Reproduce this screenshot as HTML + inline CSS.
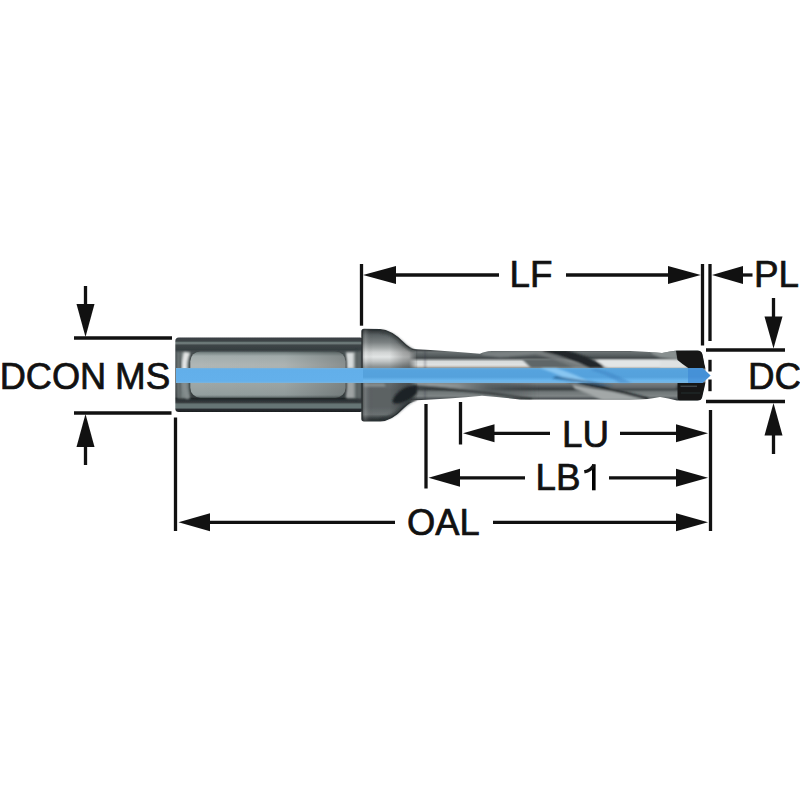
<!DOCTYPE html>
<html><head><meta charset="utf-8">
<style>
html,body{margin:0;padding:0;background:#fff;width:800px;height:800px;overflow:hidden}
svg{display:block}
text{font-family:"Liberation Sans",sans-serif;font-size:36.8px;fill:#111;stroke:#111;stroke-width:0.7px}
</style></head><body>
<svg width="800" height="800" viewBox="0 0 800 800">
<defs>
<filter id="soft" x="-5%" y="-20%" width="110%" height="140%"><feGaussianBlur stdDeviation="0.65"/></filter>
<filter id="blur1" x="-10%" y="-30%" width="120%" height="160%"><feGaussianBlur stdDeviation="0.9"/></filter>
<filter id="blur2" x="-20%" y="-50%" width="140%" height="200%"><feGaussianBlur stdDeviation="1.6"/></filter>
<linearGradient id="shank" x1="0" y1="337.5" x2="0" y2="412" gradientUnits="userSpaceOnUse">
<stop offset="0" stop-color="#353b3e"/>
<stop offset="0.01" stop-color="#3a4144"/>
<stop offset="0.05" stop-color="#3d4446"/>
<stop offset="0.063" stop-color="#6a7676"/>
<stop offset="0.085" stop-color="#6d7878"/>
<stop offset="0.1" stop-color="#3f4648"/>
<stop offset="0.16" stop-color="#353d40"/>
<stop offset="0.2" stop-color="#4a5254"/>
<stop offset="0.8" stop-color="#3a4042"/>
<stop offset="0.815" stop-color="#1f2527"/>
<stop offset="0.87" stop-color="#353b3e"/>
<stop offset="0.89" stop-color="#5a6767"/>
<stop offset="0.9" stop-color="#667474"/>
<stop offset="0.945" stop-color="#667474"/>
<stop offset="0.965" stop-color="#262c2f"/>
<stop offset="1" stop-color="#181d20"/>
</linearGradient>
<linearGradient id="panel" x1="0" y1="351.4" x2="0" y2="397.8" gradientUnits="userSpaceOnUse">
<stop offset="0" stop-color="#5f6a6b"/>
<stop offset="0.04" stop-color="#7f8b8b"/>
<stop offset="0.1" stop-color="#a3adad"/>
<stop offset="0.3" stop-color="#b0b7b6"/>
<stop offset="0.7" stop-color="#9ea7a6"/>
<stop offset="0.94" stop-color="#939e9e"/>
<stop offset="1" stop-color="#5f6a6a"/>
</linearGradient>
<linearGradient id="panelH" x1="190" y1="0" x2="347" y2="0" gradientUnits="userSpaceOnUse">
<stop offset="0" stop-color="#000" stop-opacity="0"/>
<stop offset="0.6" stop-color="#000" stop-opacity="0.02"/>
<stop offset="1" stop-color="#000" stop-opacity="0.22"/>
</linearGradient>
<linearGradient id="ringL" x1="175" y1="0" x2="191" y2="0" gradientUnits="userSpaceOnUse">
<stop offset="0" stop-color="#202628"/>
<stop offset="0.15" stop-color="#3a4042"/>
<stop offset="0.3" stop-color="#8a9091"/>
<stop offset="0.5" stop-color="#b9bdbd"/>
<stop offset="0.62" stop-color="#e8eaea"/>
<stop offset="0.72" stop-color="#9aa0a0"/>
<stop offset="0.85" stop-color="#2a3032"/>
<stop offset="1" stop-color="#3a4042"/>
</linearGradient>
<linearGradient id="ringR" x1="346" y1="0" x2="362" y2="0" gradientUnits="userSpaceOnUse">
<stop offset="0" stop-color="#6a7071"/>
<stop offset="0.2" stop-color="#b5b9b9"/>
<stop offset="0.4" stop-color="#7d8384"/>
<stop offset="0.55" stop-color="#3a4042"/>
<stop offset="0.7" stop-color="#8a9091"/>
<stop offset="0.85" stop-color="#4a5052"/>
<stop offset="1" stop-color="#252b2d"/>
</linearGradient>
<linearGradient id="collar" x1="0" y1="329.5" x2="0" y2="420.8" gradientUnits="userSpaceOnUse">
<stop offset="0" stop-color="#2a3032"/>
<stop offset="0.025" stop-color="#3d4345"/>
<stop offset="0.06" stop-color="#5a6163"/>
<stop offset="0.14" stop-color="#7a8081"/>
<stop offset="0.2" stop-color="#a5aaaa"/>
<stop offset="0.25" stop-color="#d0d3d3"/>
<stop offset="0.3" stop-color="#e2e5e5"/>
<stop offset="0.35" stop-color="#c0c4c4"/>
<stop offset="0.41" stop-color="#8a9091"/>
<stop offset="0.55" stop-color="#6a7071"/>
<stop offset="0.66" stop-color="#5c6264"/>
<stop offset="0.85" stop-color="#5c6264"/>
<stop offset="0.93" stop-color="#6a7071"/>
<stop offset="0.97" stop-color="#3a4042"/>
<stop offset="1" stop-color="#23292b"/>
</linearGradient>
<linearGradient id="collarH" x1="362" y1="0" x2="417" y2="0" gradientUnits="userSpaceOnUse">
<stop offset="0" stop-color="#000" stop-opacity="0.3"/>
<stop offset="0.07" stop-color="#fff" stop-opacity="0.12"/>
<stop offset="0.2" stop-color="#000" stop-opacity="0"/>
<stop offset="0.5" stop-color="#000" stop-opacity="0.0"/>
<stop offset="0.75" stop-color="#000" stop-opacity="0.22"/>
<stop offset="1" stop-color="#000" stop-opacity="0.35"/>
</linearGradient>
<linearGradient id="body" x1="0" y1="350" x2="0" y2="400" gradientUnits="userSpaceOnUse">
<stop offset="0" stop-color="#3a4042"/>
<stop offset="0.04" stop-color="#6a7172"/>
<stop offset="0.1" stop-color="#5a6163"/>
<stop offset="0.16" stop-color="#444a4c"/>
<stop offset="0.2" stop-color="#9ea3a3"/>
<stop offset="0.23" stop-color="#d8dbdb"/>
<stop offset="0.3" stop-color="#e0e3e3"/>
<stop offset="0.33" stop-color="#c8c4be"/>
<stop offset="0.36" stop-color="#8a9091"/>
<stop offset="0.66" stop-color="#7d8384"/>
<stop offset="0.72" stop-color="#5a6062"/>
<stop offset="0.78" stop-color="#3a4042"/>
<stop offset="0.84" stop-color="#6f7677"/>
<stop offset="0.92" stop-color="#7f8586"/>
<stop offset="0.98" stop-color="#4a5052"/>
<stop offset="1" stop-color="#2b3133"/>
</linearGradient>
<linearGradient id="blue" x1="0" y1="368" x2="0" y2="383" gradientUnits="userSpaceOnUse">
<stop offset="0" stop-color="#6aa9d6"/>
<stop offset="0.15" stop-color="#56a3de"/>
<stop offset="0.6" stop-color="#54a1dc"/>
<stop offset="0.82" stop-color="#6ab6ee"/>
<stop offset="1" stop-color="#78b3de"/>
</linearGradient>
<linearGradient id="blueS" x1="0" y1="368" x2="0" y2="383" gradientUnits="userSpaceOnUse">
<stop offset="0" stop-color="#78b2dc"/>
<stop offset="0.12" stop-color="#62afea"/>
<stop offset="0.88" stop-color="#63b0eb"/>
<stop offset="1" stop-color="#7cb4dc"/>
</linearGradient>
<linearGradient id="fadeR" x1="362" y1="0" x2="418" y2="0" gradientUnits="userSpaceOnUse">
<stop offset="0" stop-color="#fff"/>
<stop offset="0.84" stop-color="#fff"/>
<stop offset="1" stop-color="#fff" stop-opacity="0"/>
</linearGradient>
<mask id="collarMask" maskUnits="userSpaceOnUse" x="350" y="320" width="80" height="110"><rect x="350" y="320" width="80" height="110" fill="url(#fadeR)"/></mask>
<linearGradient id="neckLow" x1="412" y1="0" x2="540" y2="0" gradientUnits="userSpaceOnUse">
<stop offset="0" stop-color="#a0a5a5"/>
<stop offset="0.35" stop-color="#8a9091"/>
<stop offset="0.6" stop-color="#5a6163" stop-opacity="0.8"/>
<stop offset="1" stop-color="#3a4042" stop-opacity="0"/>
</linearGradient>
<clipPath id="bodyclip">
<path d="M405 348.5 L412 349 Q450 351 480 353.8 Q484 351.5 492 351 L560 351 L630 351 Q652 352 662 353 Q670 351 677 350.5 L697.5 350.5 Q701.5 350.5 702.3 354 L705.5 368.5 L705.5 382.5 L702.3 397 Q701.5 400.5 697.5 400.5 L677 400.5 Q668 398 660 397 Q650 399.5 630 399.5 L560 399.5 L520 399.5 Q500 397 482 395.8 Q450 399 412 400.5 L405 401 Z"/>
</clipPath>
</defs>

<g id="drill" filter="url(#soft)">
  <!-- shank -->
  <rect x="175.3" y="337.5" width="188" height="74.5" rx="3.5" fill="url(#shank)"/>
  <g filter="url(#blur1)">
    <path d="M177.5 352 L190 352 L190 398.5 L177.5 398.5 Q176.5 375 177.5 352 Z" fill="#7a8484"/>
    <path d="M179.5 351 L181 351 Q180 375 181 399 L179.5 399 Q178.5 375 179.5 351 Z" fill="#454b4d"/>
    <path d="M347 352 L362 352 L362 398.5 L347 398.5 Z" fill="#727c7c"/>
    <path d="M346 352 L354 352 L354 398 L346 398 Z" fill="#9ea3a3"/>
    <path d="M346.5 353 L353.5 353 L353.5 368 L346.5 368 Z" fill="#d8dcdc"/>
    <path d="M356.5 350 L358 350 L358 400 L356.5 400 Z" fill="#3a4042"/>
    <path d="M359.5 350 L361.5 350 L361.5 400 L359.5 400 Z" fill="#4a5052"/>
  </g>
  <rect x="188.6" y="352" width="158.4" height="46" rx="10" fill="#2e3436" filter="url(#blur1)" opacity="0.6"/>
  <rect x="190.3" y="351.4" width="155.2" height="46.4" rx="10" fill="url(#panel)"/>
  <rect x="190.3" y="351.4" width="155.2" height="46.4" rx="10" fill="url(#panelH)"/>
  <g filter="url(#blur1)">
    <path d="M184 352 Q181.5 360 182 370 L187 370 Q186.5 360 190 353 Z" fill="#eef0f0" opacity="0.9"/>
    <path d="M182.5 382 Q183 392 186 399 L189 399 Q186.5 392 186.5 382 Z" fill="#8a9091" opacity="0.8"/>
  </g>

  <!-- body -->
  <g clip-path="url(#bodyclip)">
    <rect x="400" y="345" width="310" height="60" fill="url(#body)"/>
    <g filter="url(#blur1)">
      <!-- neck ring line -->
      <rect x="424.5" y="350" width="1.2" height="50" fill="#30363a" opacity="0.5"/>
      <!-- top: flute land 1 -->
      <path d="M482 352.5 Q510 351.5 541 351 L548 352 Q525 356 500 357.5 Q490 356 482 355 Z" fill="#868c8d" opacity="0.7"/>
      <!-- highlight end (covers highlight left of wedge) -->
      <path d="M522 359 L562 359 L592 368 L531 368 Z" fill="#5f6668"/>
      <path d="M541 351.5 Q566 357 590 368 L575 368 Q555 359 535 354 Z" fill="#7a8081" opacity="0.8"/>
      <!-- dark wedge -->
      <path d="M543 350 L565 350 Q590 356 608 368 L590 368 Q567 357 543 351.5 Z" fill="#23282a"/>
      <!-- highlight after wedge -->
      <path d="M597 360 L680 360 L685 367.5 L605 367.5 Z" fill="#e3e6e6"/>
      <!-- bottom left light region -->
      <path d="M412 383 L540 383 L540 400 Q480 391 412 385.5 Z" fill="url(#neckLow)"/>
      <path d="M412 385.5 Q480 391 532 399.5" stroke="#1f2426" stroke-width="1.8" fill="none" opacity="0.85"/>
      <!-- lower diagonal flute -->
      <path d="M572 384.5 Q612 391 650 400 L602 400 Q590 394 575 389 Z" fill="#a3a8a8"/>
      <path d="M558 378.5 Q605 387 648 399" stroke="#1f2426" stroke-width="2.4" fill="none"/>
      <path d="M600 383 L676 383 L676 389 L612 389 Z" fill="#7a8081" opacity="0.5"/>
      <!-- flank before tip -->
      <path d="M652 351 L677 350.5 L678 360 L660 357.5 Q655 355 652 354 Z" fill="#8d9394" opacity="0.9"/>
      <path d="M660 360 L678 360 Q683 364 689 368 L660 368 Z" fill="#dfe2e2"/>
    </g>
    <path d="bodyclip" fill="none" stroke="#2a3032" stroke-width="1.6" opacity="0.8"/>
    <!-- tip -->
    <path d="M676 350.8 L697.5 350.6 Q701.8 350.8 702.8 354.5 L705.5 368.5 L689 368.5 Q682 364 677.5 360 Z" fill="#141718"/>
    <path d="M677.5 382.5 L705.5 382.5 L702.3 397 Q701.5 400.5 697.5 400.5 L680 400.5 Q677.5 400.5 677.5 397 Z" fill="#141718"/>
    <path d="M680.5 386.3 L697 386.3" stroke="#4a5254" stroke-width="1.5" opacity="0.8"/>
    <path d="M681 393 L700 393" stroke="#3a4042" stroke-width="1" opacity="0.6"/>
  </g>

  <!-- collar -->
  <g mask="url(#collarMask)">
  <path d="M362 331.5 Q362 329.5 364 329.5 L380 329.8 C390 330.5 397 336.5 403 342.5 C408 347.5 411 349.5 417 350 L417 400.5 C411 401 408 403 403 408 C397 414.5 390 420.5 380 420.8 L364 420.8 Q362 420.8 362 418.8 Z" fill="url(#collar)" stroke="#2c3234" stroke-width="1.4"/>
  <path d="M362 331.5 Q362 329.5 364 329.5 L380 329.8 C390 330.5 397 336.5 403 342.5 C408 347.5 411 349.5 417 350 L417 400.5 C411 401 408 403 403 408 C397 414.5 390 420.5 380 420.8 L364 420.8 Q362 420.8 362 418.8 Z" fill="url(#collarH)"/>
  </g>
  <g filter="url(#blur1)" mask="url(#collarMask)">
    <path d="M381 331.5 C391 332.5 397 338 402 343 C406 347 409 349.5 416 351.5" stroke="#3a4042" stroke-width="3.2" fill="none" opacity="0.75"/>
    <path d="M381 419 C391 418 397 413 402 408 C406 404 409 401.5 416 399.5" stroke="#2e3436" stroke-width="3" fill="none" opacity="0.7"/>
  </g>
  <path d="M392.5 400.5 Q396 391 407 387 Q413 385 417 385.5 L417 393 Q411 400 401 403 Q392 405 392.5 400.5 Z" fill="#1f2426" filter="url(#blur1)"/>
  <path d="M364 383.5 L384 383.5 L386 386.5 L364 386.5 Z" fill="#9ea3a3" opacity="0.7" filter="url(#blur1)"/>

  <!-- blue stripe -->
  <path d="M176 368 L702.5 368 L710.5 375.5 L702.5 383 L176 383 Z" fill="url(#blue)"/>
  <rect x="176" y="368" width="187" height="15" fill="url(#blueS)"/>
  <g filter="url(#blur1)">
    <path d="M540 368 L556 368 Q575 374 592 383 L576 383 Q560 375 540 368 Z" fill="#9ad2f8" opacity="0.75"/>
    <path d="M556 376 Q585 380 615 386 L600 386 Q580 382 552 378.5 Z" fill="#1f4f7c" opacity="0.6"/>
    <path d="M596 368.5 Q612 372 632 383 L620 383 Q606 374 590 370 Z" fill="#3b82c2" opacity="0.5"/>
  </g>
  <path d="M688 368 L702.5 368 L710.5 375.5 L702.5 383 L688 383 Z" fill="#3a86d4" opacity="0.6"/>
</g>

<!-- ===== dimension lines ===== -->
<g stroke="#111" stroke-width="3.3" fill="none">
  <!-- LF -->
  <line x1="361.5" y1="264" x2="361.5" y2="325.7"/>
  <line x1="380" y1="275" x2="499" y2="275"/>
  <line x1="566" y1="275" x2="685" y2="275"/>
  <!-- PL -->
  <line x1="702.5" y1="264" x2="702.5" y2="345.5"/>
  <line x1="710" y1="264" x2="710" y2="341"/>
  <line x1="730" y1="275" x2="752.5" y2="275"/>
  <!-- dashed -->
  <line x1="710" y1="359.8" x2="710" y2="371.5"/>
  <line x1="710" y1="379.5" x2="710" y2="391.2"/>
  <!-- DC -->
  <line x1="706" y1="350" x2="785" y2="350"/>
  <line x1="706" y1="401.5" x2="785" y2="401.5"/>
  <line x1="773.5" y1="298" x2="773.5" y2="330"/>
  <line x1="773.5" y1="420" x2="773.5" y2="454"/>
  <!-- DCON MS -->
  <line x1="74" y1="338" x2="172" y2="338"/>
  <line x1="74" y1="413" x2="171.5" y2="413"/>
  <line x1="85.5" y1="286" x2="85.5" y2="320"/>
  <line x1="85.5" y1="430" x2="85.5" y2="465"/>
  <!-- OAL -->
  <line x1="175.5" y1="417.5" x2="175.5" y2="531"/>
  <line x1="710.5" y1="410" x2="710.5" y2="531"/>
  <line x1="195" y1="522.3" x2="395" y2="522.3"/>
  <line x1="493" y1="522.3" x2="690" y2="522.3"/>
  <!-- LB1 -->
  <line x1="426" y1="404" x2="426" y2="488.5"/>
  <line x1="445" y1="477.8" x2="525" y2="477.8"/>
  <line x1="609" y1="477.8" x2="690" y2="477.8"/>
  <!-- LU -->
  <line x1="460.5" y1="402" x2="460.5" y2="444.5"/>
  <line x1="480" y1="433.3" x2="550" y2="433.3"/>
  <line x1="620" y1="433.3" x2="690" y2="433.3"/>
</g>
<g fill="#111">
  <!-- arrowheads -->
  <path d="M363 275 L396 266 L396 284 Z"/>
  <path d="M700.8 275 L668 266 L668 284 Z"/>
  <path d="M712 275 L743 266 L743 284 Z"/>
  <path d="M773.5 348.5 L764.5 316.5 L782.5 316.5 Z"/>
  <path d="M773.5 403 L764.5 435.5 L782.5 435.5 Z"/>
  <path d="M85.5 337 L76.5 304 L94.5 304 Z"/>
  <path d="M85.5 414 L76.5 447 L94.5 447 Z"/>
  <path d="M178.5 522.3 L210 513.3 L210 531.3 Z"/>
  <path d="M708 522.3 L676 513.3 L676 531.3 Z"/>
  <path d="M428.5 477.8 L460 468.8 L460 486.8 Z"/>
  <path d="M708 477.8 L676 468.8 L676 486.8 Z"/>
  <path d="M463 433.3 L494.5 424.3 L494.5 442.3 Z"/>
  <path d="M708 433.3 L676 424.3 L676 442.3 Z"/>
</g>
<g>
  <text x="-0.3" y="388.5" style="font-size:36.2px">DCON</text>
  <text x="115" y="389">MS</text>
  <text x="509.5" y="287">LF</text>
  <text x="754" y="287">PL</text>
  <text x="748" y="388.5">DC</text>
  <text x="562" y="447">LU</text>
  <text x="535.5" y="490">LB</text>
  <path d="M592 464.2 L595.6 464.2 L595.6 490.3 L592 490.3 Z"/>
  <path d="M594 465 Q591 470.5 584.3 471.8" stroke="#111" stroke-width="3.4" fill="none"/>
  <text x="407" y="535.4" style="font-size:36.3px">OAL</text>
</g>
</svg>
</body></html>
